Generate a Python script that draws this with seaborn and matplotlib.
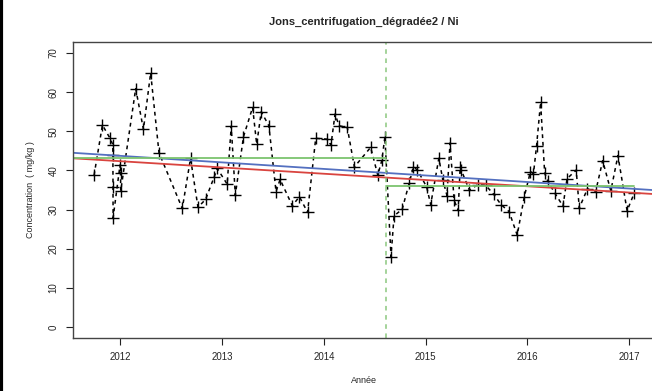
import numpy as np
import pandas as pd
import matplotlib
matplotlib.use("Agg")
import matplotlib.pyplot as plt
import seaborn as sns
from matplotlib.lines import Line2D

# ==================== 数据 ====================
annee = [2011.742, 2011.824, 2011.899, 2011.926, 2011.927, 2011.928, 2011.929,
         2011.997, 2012.002, 2012.004, 2012.151, 2012.227, 2012.298, 2012.380,
         2012.609, 2012.690, 2012.763, 2012.838, 2012.920, 2012.953, 2013.050,
         2013.090, 2013.130, 2013.210, 2013.300, 2013.340, 2013.385, 2013.460,
         2013.530, 2013.570, 2013.690, 2013.760, 2013.840, 2013.920, 2014.030,
         2014.070, 2014.110, 2014.150, 2014.230, 2014.300, 2014.460, 2014.530,
         2014.570, 2014.600, 2014.660, 2014.690, 2014.770, 2014.840, 2014.880,
         2014.920, 2015.010, 2015.050, 2015.130, 2015.170, 2015.210, 2015.240,
         2015.280, 2015.320, 2015.340, 2015.350, 2015.430, 2015.510, 2015.590,
         2015.670, 2015.740, 2015.820, 2015.900, 2015.970, 2016.030, 2016.060,
         2016.090, 2016.130, 2016.170, 2016.200, 2016.270, 2016.350, 2016.390,
         2016.480, 2016.510, 2016.590, 2016.670, 2016.740, 2016.820, 2016.890,
         2016.980, 2017.050]
concentration = [38.8, 51.6, 48.2, 46.6, 44.0, 35.9, 27.9,
                 41.4, 39.3, 34.8, 60.9, 50.5, 64.9, 44.5,
                 30.3, 43.1, 30.6, 32.6, 38.2, 40.5, 36.5,
                 51.3, 33.7, 48.6, 56.1, 46.7, 55.0, 51.4,
                 34.6, 37.7, 31.0, 33.3, 29.3, 48.2, 48.0,
                 46.5, 54.4, 51.4, 51.0, 40.9, 45.9, 38.8,
                 42.6, 48.6, 18.0, 28.4, 30.1, 36.9, 40.9,
                 40.1, 35.8, 31.3, 43.1, 37.5, 33.6, 47.0,
                 32.4, 29.8, 41.0, 40.1, 35.0, 36.3, 36.2,
                 33.9, 31.3, 29.5, 23.5, 33.3, 39.7, 39.2,
                 46.2, 57.4, 39.3, 37.3, 34.2, 30.9, 37.9,
                 40.1, 30.4, 35.3, 34.5, 42.5, 34.8, 43.8,
                 29.7, 34.2]

# 趋势线 (valeur en 2012 et pente par an)
tendance_bleue = (43.73, -1.67)
tendance_rouge = (42.36, -1.60)

# rupture et moyennes par segment
annee_rupture = 2014.61
moyennes_segments = [43.3, 36.1]
bornes_segments = [2011.53, 2014.61, 2017.05]

annees_ticks = [2012, 2013, 2014, 2015, 2016, 2017]
conc_ticks = [0, 10, 20, 30, 40, 50, 60, 70]

df = pd.DataFrame({"Annee": annee, "Concentration": concentration})

# ==================== 绘图 ====================
sns.set_style("white")
plt.rcParams['font.family'] = ['Liberation Sans', 'DejaVu Sans']

fig = plt.figure(figsize=(6.52, 3.91), dpi=100)
ax = fig.add_axes([0.1112, 0.1355, 0.8943, 0.757])

sns.lineplot(data=df, x="Annee", y="Concentration", ax=ax,
             estimator=None, sort=False, color="black",
             linestyle=(0, (2.5, 2.5)), linewidth=1.1,
             marker="+", markersize=8, markeredgewidth=1.0,
             markeredgecolor="black")

xlim = (2011.53, 2017.26)
xs = np.array(xlim)
ax.plot(xs, tendance_bleue[0] + tendance_bleue[1] * (xs - 2012),
        color="#5470c0", linewidth=1.3)
ax.plot(xs, tendance_rouge[0] + tendance_rouge[1] * (xs - 2012),
        color="#d9443f", linewidth=1.3)

for i, m in enumerate(moyennes_segments):
    ax.plot([bornes_segments[i], bornes_segments[i + 1]], [m, m],
            color="#7cc46e", linewidth=1.3)

ax.axvline(annee_rupture, color="#8cc77f", linestyle=(0, (3, 3)), linewidth=1.1)

ax.set_xlim(*xlim)
ax.set_ylim(-2.8, 72.8)
ax.set_xticks(annees_ticks)
ax.set_xticklabels([str(a) for a in annees_ticks])
ax.set_yticks(conc_ticks)
ax.set_yticklabels([str(c) for c in conc_ticks], rotation=90, va="center")
ax.tick_params(axis="both", labelsize=7, length=5, width=0.8,
               direction="out", color="#222222", pad=5, bottom=True, left=True)

for s in ax.spines.values():
    s.set_color("#444444")
    s.set_linewidth(1.0)

ax.set_xlabel("Année", fontsize=6.5, labelpad=10)
ax.set_ylabel("Concentration  ( mg/kg )", fontsize=6.5, labelpad=10)
ax.set_title("Jons_centrifugation_dégradée2 / Ni", fontsize=8,
             fontweight="bold", pad=12)

# bordure noire à gauche
fig.add_artist(Line2D([0.002, 0.002], [0, 1], transform=fig.transFigure,
                      color="black", linewidth=3))

fig.savefig("out.png", dpi=100)
